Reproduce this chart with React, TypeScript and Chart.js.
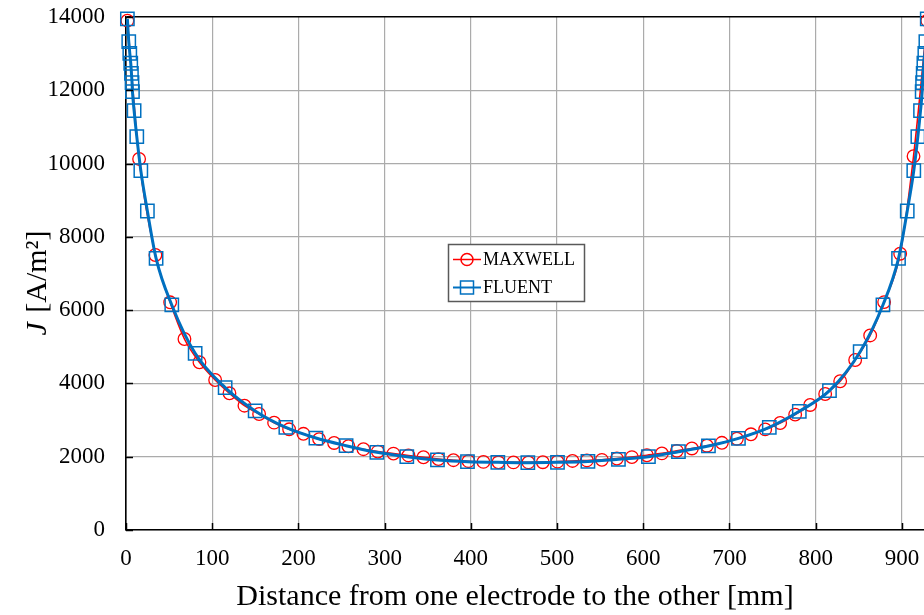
import React, { useEffect, useRef } from "react";
import { Chart, registerables } from "chart.js";

Chart.register(...registerables);

// MAXWELL series (distance mm, current density A/m²)
const maxwellX = [
  1.6, 15.2, 34.1, 51.2, 67.8, 85.2, 103.4, 120, 137.4, 154.4, 171.8, 189.2, 205.8, 224,
  241.4, 258, 275.4, 292.1, 310.2, 327.6, 345, 362.4, 379.8, 397.2, 414.6, 432, 449.4,
  466.8, 483.5, 500.5, 517.9, 534.6, 552, 569.4, 586.8, 604.2, 621.6, 639, 656.4, 673.8,
  691.2, 708.6, 724.9, 741.4, 758.8, 776.2, 793.6, 811, 828.4, 845.8, 863.2, 879.4, 898,
  913.5, 929.4,
];
const maxwellY = [
  13900, 10126, 7505, 6214, 5213, 4577, 4094, 3731, 3392, 3166, 2929, 2748, 2625, 2480,
  2375, 2285, 2205, 2140, 2085, 2035, 1985, 1935, 1905, 1878, 1858, 1848, 1845,
  1845, 1850, 1865, 1885, 1898, 1915, 1950, 1990, 2040, 2090, 2160, 2225, 2300,
  2380, 2490, 2612, 2745, 2920, 3150, 3412, 3712, 4060, 4640, 5310, 6220, 7540,
  10200, 13900,
];

// FLUENT series
const fluentX = [
  1.6, 3.2, 4.4, 5.5, 6.3, 7.0, 7.5, 9.4, 12.5, 17.2, 24.8, 34.9, 53.1, 80.2, 115, 149.8,
  185.4, 220.3, 255.3, 291, 325.7, 361.3, 396.1, 431.3, 466.1, 500.5, 535.8, 571.2, 606,
  640.8, 675.6, 710.4, 746.2, 781, 816, 851.6, 878, 896.1, 906.2, 913.8, 918.5, 921.6,
  923.5, 924.0, 924.7, 925.5, 926.6, 927.8, 929.4,
];
const fluentY = [
  13950, 13327, 13010, 12738, 12464, 12210, 11963, 11444, 10734, 9807, 8706, 7415, 6141,
  4822, 3885, 3250, 2800, 2510, 2301, 2121, 2001, 1911, 1864, 1848, 1837, 1848, 1870,
  1930, 2001, 2137, 2293, 2502, 2803, 3240, 3802, 4866, 6141, 7415, 8706, 9807, 10734,
  11444, 11963, 12210, 12464, 12738, 13010, 13327, 13950,
];

const seriesNames = ["MAXWELL", "FLUENT"];
const xTitle = "Distance from one electrode to the other [mm]";
const yTitleItalic = "J";
const yTitleRest = " [A/m²]";
const xMin = 0;
const xMax = 950;
const xStep = 100;
const yMin = 0;
const yMax = 14000;
const yStep = 2000;

const RED = "#ff0000";
const BLUE = "#0070c0";
const FONT = '"Liberation Serif", "Times New Roman", serif';

const decorPlugin = {
  id: "decor",
  afterDraw(chart: any) {
    const { ctx, chartArea: ca, scales } = chart;
    const xs = scales.x;
    const ys = scales.y;
    ctx.save();
    // inner tick marks
    ctx.strokeStyle = "#000";
    ctx.lineWidth = 1.5;
    ys.ticks.forEach((t: any) => {
      const py = Math.round(ys.getPixelForValue(t.value)) + 0.5;
      ctx.beginPath();
      ctx.moveTo(ca.left, py);
      ctx.lineTo(ca.left + 7, py);
      ctx.stroke();
    });
    xs.ticks.forEach((t: any) => {
      const px = Math.round(xs.getPixelForValue(t.value)) + 0.5;
      ctx.beginPath();
      ctx.moveTo(px, ca.bottom);
      ctx.lineTo(px, ca.bottom - 7);
      ctx.stroke();
    });

    // x axis title
    ctx.fillStyle = "#000";
    ctx.font = `30px ${FONT}`;
    ctx.textAlign = "center";
    ctx.textBaseline = "alphabetic";
    ctx.fillText(xTitle, 515, 605);

    // y axis title (J italic)
    ctx.save();
    ctx.translate(38, 284);
    ctx.rotate(-Math.PI / 2);
    ctx.textBaseline = "middle";
    ctx.textAlign = "left";
    ctx.font = `italic 30px ${FONT}`;
    const w1 = ctx.measureText(yTitleItalic).width;
    ctx.font = `30px ${FONT}`;
    const w2 = ctx.measureText(yTitleRest).width;
    const start = -(w1 + w2) / 2;
    ctx.font = `italic 30px ${FONT}`;
    ctx.fillText(yTitleItalic, start, 0);
    ctx.font = `30px ${FONT}`;
    ctx.fillText(yTitleRest, start + w1 + 2, 0);
    ctx.restore();

    // legend
    const bx = 448.5, by = 244.5, bw = 136, bh = 57;
    ctx.fillStyle = "#fff";
    ctx.fillRect(bx, by, bw, bh);
    ctx.strokeStyle = "#595959";
    ctx.lineWidth = 1.5;
    ctx.strokeRect(bx, by, bw, bh);
    const rows = [259.5, 287.5];
    ctx.font = `18px ${FONT}`;
    ctx.textAlign = "left";
    ctx.textBaseline = "middle";
    // MAXWELL
    ctx.strokeStyle = RED;
    ctx.lineWidth = 1.5;
    ctx.beginPath();
    ctx.moveTo(453, rows[0]);
    ctx.lineTo(481, rows[0]);
    ctx.stroke();
    ctx.beginPath();
    ctx.arc(467, rows[0], 6, 0, Math.PI * 2);
    ctx.stroke();
    // FLUENT
    ctx.strokeStyle = BLUE;
    ctx.lineWidth = 2;
    ctx.beginPath();
    ctx.moveTo(453, rows[1]);
    ctx.lineTo(481, rows[1]);
    ctx.stroke();
    ctx.lineWidth = 1.5;
    ctx.strokeRect(460.5, rows[1] - 6.5, 13, 13);
    ctx.fillStyle = "#000";
    ctx.fillText(seriesNames[0], 483, rows[0] + 1);
    ctx.fillText(seriesNames[1], 483, rows[1] + 1);
    ctx.restore();
  },
};

export default function App() {
  const canvasRef = useRef<HTMLCanvasElement | null>(null);

  useEffect(() => {
    const canvas = canvasRef.current;
    if (!canvas) return;
    const chart = new Chart(canvas, {
      type: "line",
      data: {
        datasets: [
          {
            label: seriesNames[0],
            data: maxwellX.map((x, i) => ({ x, y: maxwellY[i] })),
            borderColor: RED,
            backgroundColor: "transparent",
            borderWidth: 1.6,
            pointStyle: "circle",
            pointRadius: 6.3,
            pointBorderWidth: 1.3,
            pointBorderColor: RED,
            pointBackgroundColor: "transparent",
            cubicInterpolationMode: "monotone",
            clip: false as any,
            order: 1,
          },
          {
            label: seriesNames[1],
            data: fluentX.map((x, i) => ({ x, y: fluentY[i] })),
            borderColor: BLUE,
            backgroundColor: "transparent",
            borderWidth: 3,
            pointStyle: "rect",
            pointRadius: 9.4,
            pointBorderWidth: 1.5,
            pointBorderColor: BLUE,
            pointBackgroundColor: "transparent",
            cubicInterpolationMode: "monotone",
            clip: false as any,
            order: 0,
          },
        ],
      },
      options: {
        responsive: false,
        animation: false,
        devicePixelRatio: 1,
        layout: { padding: { top: 17, right: 15, bottom: 0, left: 0 } },
        plugins: {
          legend: { display: false },
          tooltip: { enabled: false },
          title: { display: false },
        },
        scales: {
          x: {
            type: "linear",
            min: xMin,
            max: xMax,
            afterFit: (s: any) => {
              s.height = 85;
              s.paddingLeft = 0;
              s.paddingRight = 0;
            },
            ticks: {
              stepSize: xStep,
              includeBounds: false,
              color: "#000",
              font: { family: FONT, size: 23 },
              padding: 15,
              maxRotation: 0,
              callback: (v: any) => String(v),
            },
            grid: {
              color: "#ababab",
              lineWidth: 1.2,
              drawTicks: false,
            },
            border: { display: true, color: "#000", width: 1.6 },
          },
          y: {
            type: "linear",
            min: yMin,
            max: yMax,
            afterFit: (s: any) => {
              s.width = 126;
              s.paddingTop = 0;
              s.paddingBottom = 0;
            },
            ticks: {
              stepSize: yStep,
              color: "#000",
              font: { family: FONT, size: 23 },
              padding: 21,
              callback: (v: any) => String(v),
            },
            grid: {
              color: (c: any) => (c.tick && c.tick.value === yMax ? "#000" : "#ababab"),
              lineWidth: (c: any) => (c.tick && c.tick.value === yMax ? 1.6 : 1.2),
              drawTicks: false,
            },
            border: { display: true, color: "#000", width: 1.6 },
          },
        },
      },
      plugins: [decorPlugin],
    } as any);
    return () => chart.destroy();
  }, []);

  return (
    <div
      style={{
        position: "fixed",
        left: 0,
        top: 0,
        width: 924,
        height: 615,
        overflow: "hidden",
        background: "#fff",
      }}
    >
      <canvas ref={canvasRef} width={960} height={615} style={{ display: "block" }} />
    </div>
  );
}
